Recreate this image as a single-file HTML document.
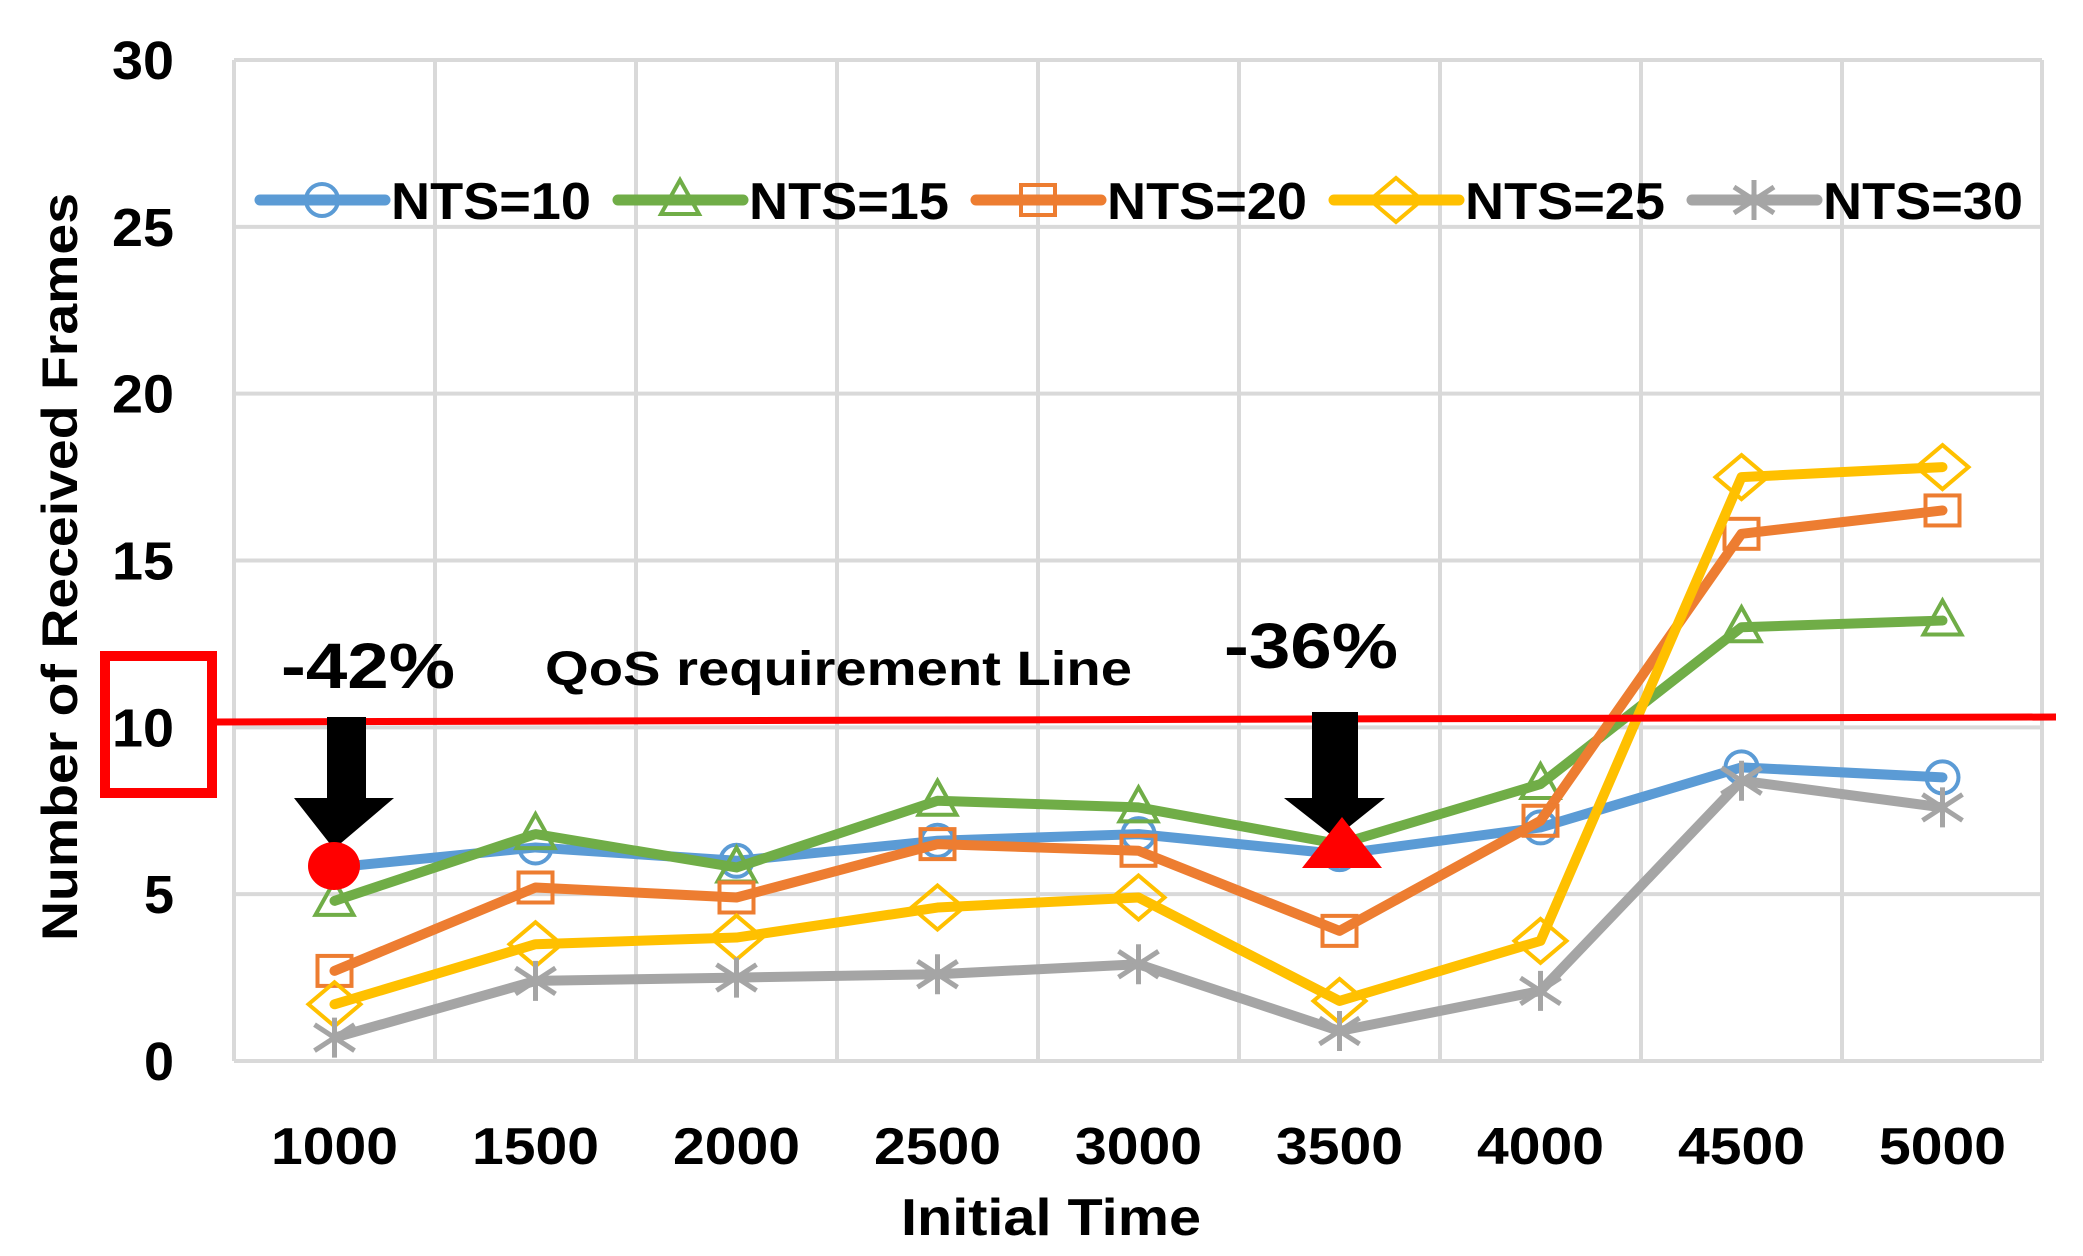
<!DOCTYPE html>
<html><head><meta charset="utf-8"><style>
html,body{margin:0;padding:0;background:#fff;}
svg{display:block;}
text{font-family:"Liberation Sans",sans-serif;font-weight:bold;fill:#000;}
</style></head><body>
<svg id="s" width="2083" height="1256" viewBox="0 0 2083 1256" xmlns="http://www.w3.org/2000/svg">
<g id="grid" stroke="#d9d9d9" stroke-width="4" fill="none"></g>
<g id="ylab"></g>
<g id="xlab"></g>
<text x="60" y="567" font-size="50" text-anchor="middle" textLength="748" lengthAdjust="spacingAndGlyphs" transform="rotate(-90 60 567)" dy="17">Number of Received Frames</text>
<text x="1051" y="1235" font-size="52" text-anchor="middle" textLength="300" lengthAdjust="spacingAndGlyphs">Initial Time</text>
<g id="series"></g>
<g id="legend"></g>
<line x1="214" y1="722" x2="2056" y2="717" stroke="#ff0000" stroke-width="7"/>
<rect x="105" y="656" width="107" height="137" fill="none" stroke="#ff0000" stroke-width="10"/>
<text x="281" y="688" font-size="64" textLength="174" lengthAdjust="spacingAndGlyphs">-42%</text>
<text x="1224" y="668" font-size="64" textLength="174" lengthAdjust="spacingAndGlyphs">-36%</text>
<text x="545" y="685" font-size="48" textLength="587" lengthAdjust="spacingAndGlyphs">QoS requirement Line</text>
<polygon points="327,717 366,717 366,798 394,798 334,849 294,798 327,798" fill="#000"/>
<polygon points="1312,712 1358,712 1358,798 1385,798 1335,838 1284,798 1312,798" fill="#000"/>
<ellipse cx="334" cy="866" rx="26" ry="24" fill="#ff0000"/>
<polygon points="1342,817 1382,868 1302,868" fill="#ff0000"/>
</svg>
<script>
var NS="http://www.w3.org/2000/svg";
function el(p,t,a){var e=document.createElementNS(NS,t);for(var k in a)e.setAttribute(k,a[k]);p.appendChild(e);return e;}
var L=234,R=2042,T=60,B=1061;
function Y(v){return B-(B-T)*v/30;}
function X(i){return 334.5+201*i;}
var g=document.getElementById('grid');
for(var k=0;k<=6;k++){el(g,'line',{x1:L,x2:R,y1:Y(k*5),y2:Y(k*5)});}
for(var k=0;k<=8;k++){var x=L+201*k;el(g,'line',{x1:x,x2:x,y1:T,y2:B});}
el(g,'line',{x1:R,x2:R,y1:T,y2:B});
var yl=document.getElementById('ylab');
for(var k=0;k<=6;k++){var a={x:174,y:Y(k*5)+19,'font-size':54,'text-anchor':'end'};if(k>=2){a.textLength=62;a.lengthAdjust='spacingAndGlyphs';}var t=el(yl,'text',a);t.textContent=String(k*5);}
var xl=document.getElementById('xlab');
for(var i=0;i<9;i++){var t=el(xl,'text',{x:X(i),y:1164,'font-size':52,'text-anchor':'middle',textLength:127,lengthAdjust:'spacingAndGlyphs'});t.textContent=String(1000+500*i);}
var S=[
{c:'#5b9bd5',m:'o',d:[5.8,6.4,6.0,6.6,6.8,6.2,7.0,8.8,8.5],n:'NTS=10'},
{c:'#70ad47',m:'t',d:[4.8,6.8,5.8,7.8,7.6,6.5,8.3,13.0,13.2],n:'NTS=15'},
{c:'#ed7d31',m:'s',d:[2.7,5.2,4.9,6.5,6.3,3.9,7.2,15.8,16.5],n:'NTS=20'},
{c:'#ffc000',m:'d',d:[1.7,3.5,3.7,4.6,4.9,1.8,3.6,17.5,17.8],n:'NTS=25'},
{c:'#a5a5a5',m:'x',d:[0.7,2.4,2.5,2.6,2.9,0.9,2.1,8.4,7.6],n:'NTS=30'}];
function mark(p,m,x,y,c){
 var a={fill:'none',stroke:c,'stroke-width':4};
 if(m=='o'){a.cx=x;a.cy=y;a.r=16;el(p,'circle',a);}
 else if(m=='t'){a.points=(x)+','+(y-20)+' '+(x+19)+','+(y+14)+' '+(x-19)+','+(y+14);el(p,'polygon',a);}
 else if(m=='s'){a.x=x-17;a.y=y-15;a.width=34;a.height=30;el(p,'rect',a);}
 else if(m=='d'){a.points=x+','+(y-22)+' '+(x+26)+','+y+' '+x+','+(y+22)+' '+(x-26)+','+y;el(p,'polygon',a);}
 else {a['stroke-width']=5;el(p,'path',Object.assign(a,{d:'M'+(x-20)+' '+(y-13)+'L'+(x+20)+' '+(y+13)+'M'+(x-20)+' '+(y+13)+'L'+(x+20)+' '+(y-13)+'M'+x+' '+(y-20)+'L'+x+' '+(y+20)}));}
}
var sg=document.getElementById('series');
S.forEach(function(s){
 var pts=s.d.map(function(v,i){return X(i)+','+Y(v);}).join(' ');
 el(sg,'polyline',{points:pts,fill:'none',stroke:s.c,'stroke-width':10,'stroke-linejoin':'round','stroke-linecap':'round'});
 s.d.forEach(function(v,i){mark(sg,s.m,X(i),Y(v),s.c);});
});
var lg=document.getElementById('legend');
var lx=[260,618,976,1334,1692];
S.forEach(function(s,i){
 var x=lx[i],y=200;
 el(lg,'line',{x1:x,x2:x+125,y1:y,y2:y,stroke:s.c,'stroke-width':11,'stroke-linecap':'round'});
 mark(lg,s.m,x+62,y,s.c);
 var t=el(lg,'text',{x:x+131,y:y+19,'font-size':52,textLength:200,lengthAdjust:'spacingAndGlyphs'});t.textContent=s.n;
});
</script>
</body></html>
